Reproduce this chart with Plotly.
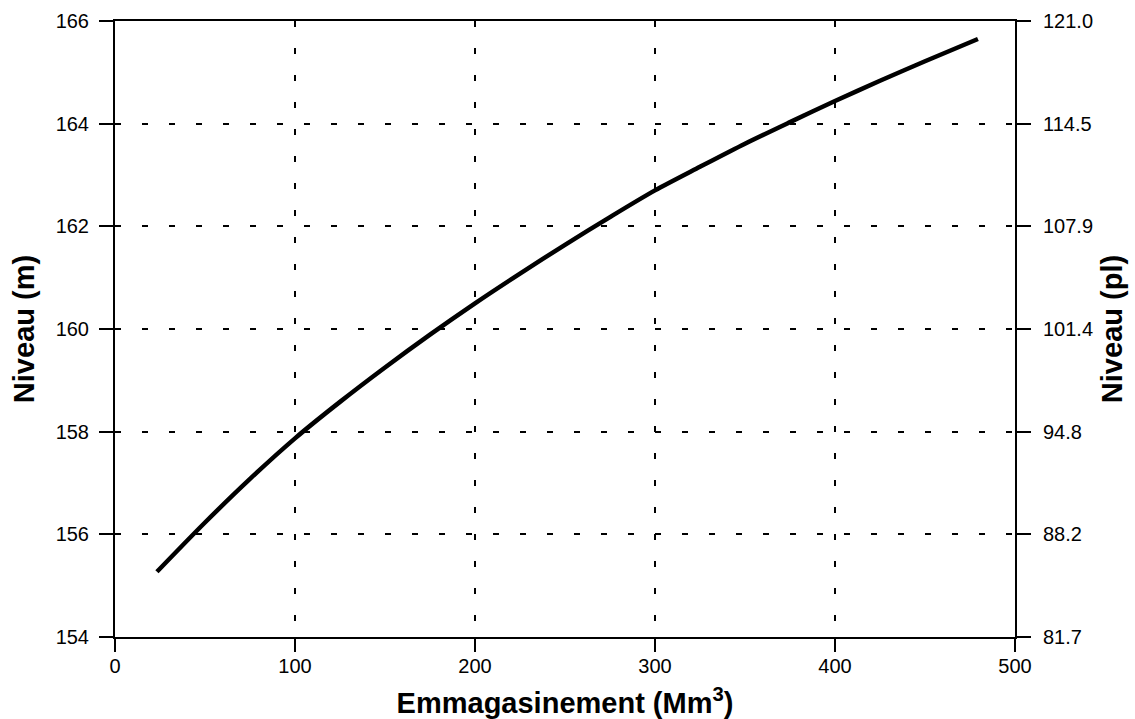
import plotly.graph_objects as go

# Data
storage = [23.3, 50, 75, 100, 125, 150, 175, 200, 225, 250, 275, 300, 325, 350, 375, 400, 425, 450, 479.4]
level_m = [155.27, 156.23, 157.08, 157.87, 158.58, 159.25, 159.89, 160.50, 161.08, 161.64,
           162.18, 162.70, 163.16, 163.61, 164.03, 164.44, 164.835, 165.215, 165.65]

x_ticks = [0, 100, 200, 300, 400, 500]
y_ticks = [154, 156, 158, 160, 162, 164, 166]
y2_ticklabels = ["81.7", "88.2", "94.8", "101.4", "107.9", "114.5", "121.0"]

FONT = "Liberation Sans, Arial, sans-serif"

fig = go.Figure()
fig.add_trace(go.Scatter(x=storage, y=level_m, mode="lines",
                         line=dict(color="black", width=4.5, shape="spline", smoothing=0.8),
                         showlegend=False, hoverinfo="x+y"))
fig.add_trace(go.Scatter(x=storage, y=level_m, mode="lines", yaxis="y2",
                         line=dict(color="rgba(0,0,0,0)", width=0),
                         showlegend=False, hoverinfo="skip"))

fig.update_layout(
    width=1135, height=719,
    margin=dict(l=115, r=120, t=21, b=82),
    paper_bgcolor="white", plot_bgcolor="white",
    font=dict(family=FONT, color="black", size=20),
    xaxis=dict(
        range=[0, 500], tickvals=x_ticks, ticks="outside", ticklen=13, tickwidth=2,
        tickcolor="black", showline=True, linecolor="black", linewidth=2, mirror=True,
        showgrid=True, gridcolor="black", gridwidth=1.5, griddash="6px,21px",
        zeroline=False, tickfont=dict(size=20), automargin=False, ticklabelstandoff=-3,
        title=dict(text="<b>Emmagasinement (Mm<sup>3</sup>)</b>", font=dict(size=29), standoff=17),
    ),
    yaxis=dict(
        range=[154, 166], tickvals=y_ticks, ticks="outside", ticklen=14, tickwidth=2,
        tickcolor="black", showline=True, linecolor="black", linewidth=2, mirror=True,
        showgrid=True, gridcolor="black", gridwidth=1.5, griddash="6px,21px",
        zeroline=False, tickfont=dict(size=20), ticklabelstandoff=6, automargin=False,
        title=dict(text="<b>Niveau (m)</b>", font=dict(size=29), standoff=12),
    ),
    yaxis2=dict(
        range=[154, 166], overlaying="y", side="right", tickvals=y_ticks,
        ticktext=y2_ticklabels, ticks="outside", ticklen=14, tickwidth=2,
        tickcolor="black", showline=True, linecolor="black", linewidth=2,
        showgrid=False, zeroline=False, tickfont=dict(size=20), ticklabelstandoff=8,
        automargin=False,
        title=dict(text="<b>Niveau (pl)</b>", font=dict(size=29), standoff=10),
    ),
)

fig.write_html("out.html", config={"displayModeBar": False},
               post_script="document.body.style.margin='0';document.body.style.overflow='hidden';")
